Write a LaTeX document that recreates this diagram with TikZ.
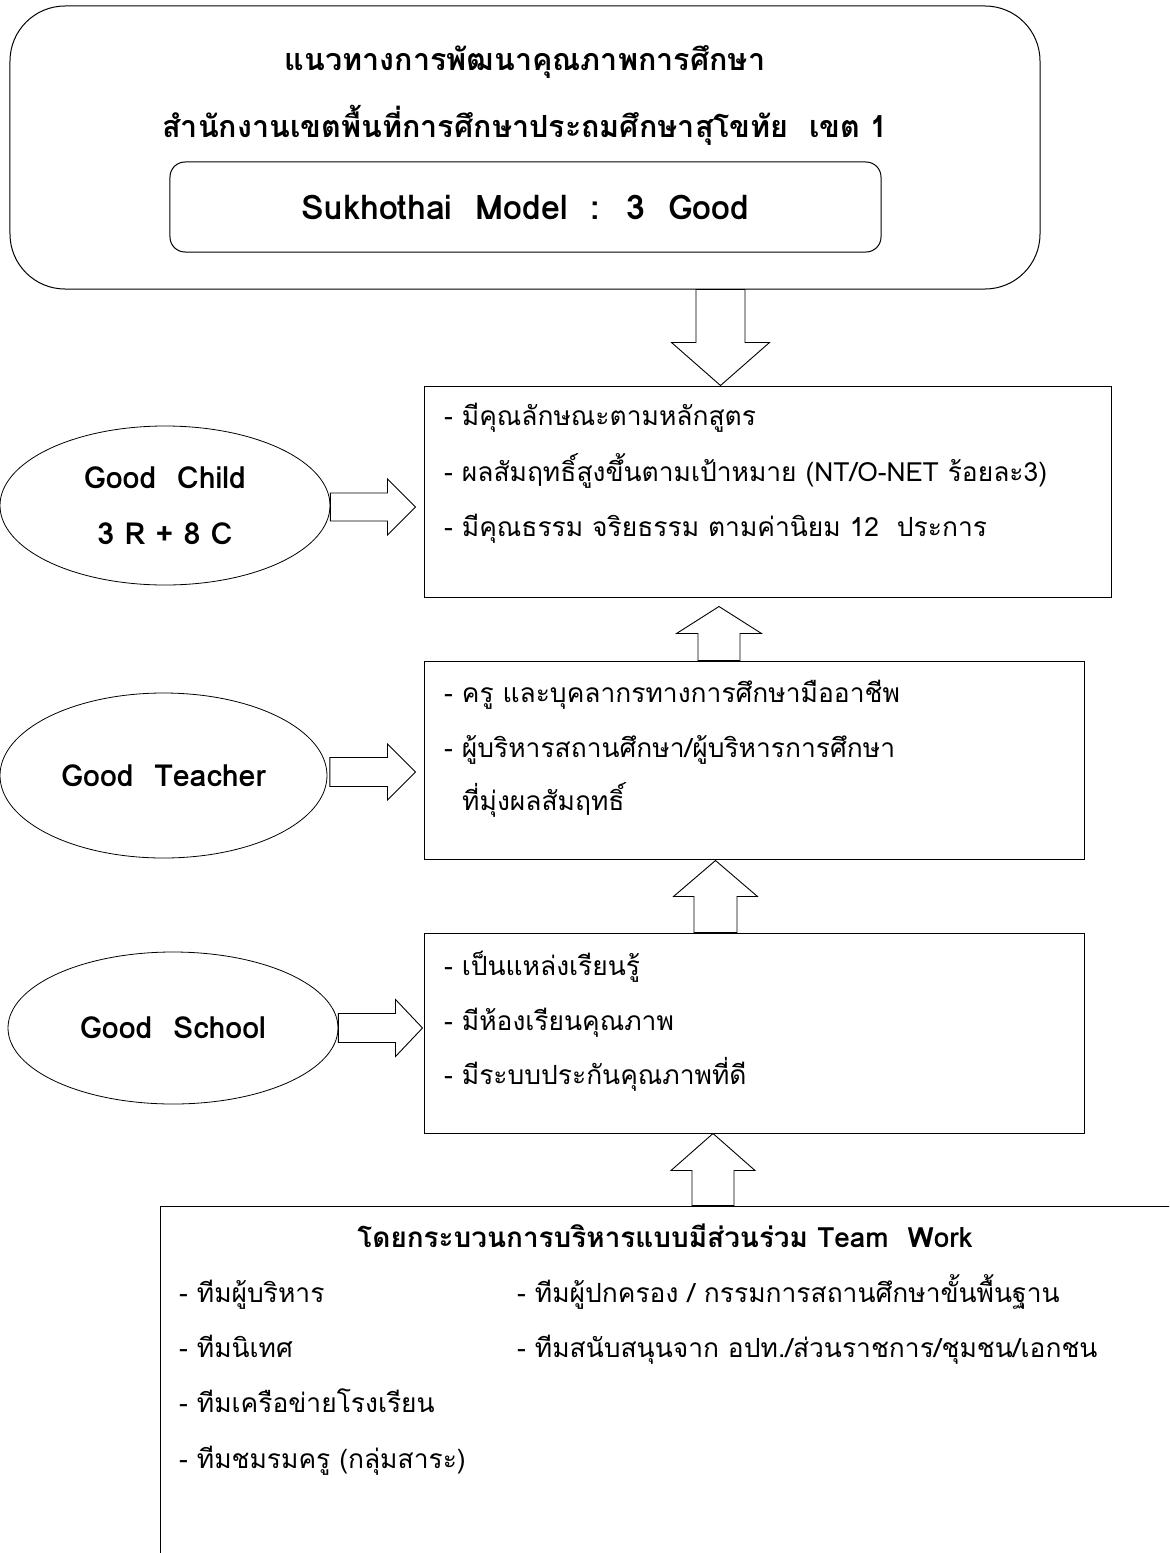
\documentclass[tikz,border=0pt]{standalone}
\usepackage{fontspec}
\setmainfont{Loma}[Script=Thai]
\usetikzlibrary{calc,shapes.geometric}
\newcommand\blkarrow[5]{%
  \coordinate (nk) at ($(#2)!#5!(#1)$);
  \draw[blockarrow] ($(#1)!#3!90:(#2)$) -- ($(nk)!#3!90:(#2)$) -- ($(nk)!#4!90:(#2)$) -- (#2)
    -- ($(nk)!#4!-90:(#2)$) -- ($(nk)!#3!-90:(#2)$) -- ($(#1)!#3!-90:(#2)$) -- cycle;
}
\tikzset{
  frame/.style={draw=black, line width=1bp, inner sep=0pt},
  ell/.style={draw=black, line width=0.8bp, ellipse, inner sep=0pt, align=center,
              font=\fontsize{30.5}{56}\selectfont\bfseries},
  blockarrow/.style={draw=black, line width=0.9bp, fill=white, line join=miter},
  ttl/.style={font=\fontsize{30.6}{36}\selectfont\bfseries, inner sep=0pt},
  txt/.style={font=\fontsize{26.5}{32}\selectfont, inner sep=0pt, anchor=mid west},
}
\begin{document}
\begin{tikzpicture}[x=1bp,y=-1bp]
\clip (0,0) rectangle (1169,1553);
\fill[white] (0,0) rectangle (1169,1553);

% top block
\node[frame, rounded corners=55bp, minimum width=1030bp, minimum height=283bp] (top) at (525,147.5) {};
\node[ttl] (t1) at (525,62) {แนวทางการพัฒนาคุณภาพการศึกษา};
\node[ttl] (t2) at (525,125) {สำนักงานเขตพื้นที่การศึกษาประถมศึกษาสุโขทัย~ เขต 1};
\node[frame, rounded corners=15bp, minimum width=711bp, minimum height=90bp,
      font=\fontsize{34}{40}\selectfont\bfseries] (model) at (525.5,207) {Sukhothai~ Model~ :~ 3~ Good};

% content boxes
\node[frame, minimum width=687bp, minimum height=211bp] (b1) at (767.5,491.5) {};
\node[frame, minimum width=660bp, minimum height=198bp] (b2) at (754,760) {};
\node[frame, minimum width=660bp, minimum height=200bp] (b3) at (754,1033) {};
\node[frame, minimum width=1019bp, minimum height=400bp] (b4) at (670.5,1406) {};

% ellipses
\node[ell, minimum width=330bp, minimum height=159bp] (gc) at (165,505.5) {Good~ Child\\3 R + 8 C};
\node[ell, minimum width=327bp, minimum height=165bp] (gt) at (163.5,775.5) {Good~ Teacher};
\node[ell, minimum width=330bp, minimum height=152bp] (gs) at (173,1028) {Good~ School};

% box 1 text
\node[txt] (b1l1) at (444,423) {- มีคุณลักษณะตามหลักสูตร};
\node[txt] (b1l2) at (444,479) {- ผลสัมฤทธิ์สูงขึ้นตามเป้าหมาย (NT/O-NET ร้อยละ3)};
\node[txt] (b1l3) at (444,534) {- มีคุณธรรม จริยธรรม ตามค่านิยม 12~ ประการ};
% box 2 text
\node[txt] (b2l1) at (444,700) {- ครู และบุคลากรทางการศึกษามืออาชีพ};
\node[txt] (b2l2) at (444,755) {- ผู้บริหารสถานศึกษา/ผู้บริหารการศึกษา};
\node[txt] (b2l3) at (462,808) {ที่มุ่งผลสัมฤทธิ์};
% box 3 text
\node[txt] (b3l1) at (444,973) {- เป็นแหล่งเรียนรู้};
\node[txt] (b3l2) at (444,1028) {- มีห้องเรียนคุณภาพ};
\node[txt] (b3l3) at (444,1082) {- มีระบบประกันคุณภาพที่ดี};
% box 4 text
\node[ttl, font=\fontsize{28}{34}\selectfont\bfseries, anchor=mid] (b4h) at (665,1245) {โดยกระบวนการบริหารแบบมีส่วนร่วม Team~ Work};
\node[txt] (b4a1) at (179,1300) {- ทีมผู้บริหาร};
\node[txt] (b4a2) at (179,1355) {- ทีมนิเทศ};
\node[txt] (b4a3) at (179,1410) {- ทีมเครือข่ายโรงเรียน};
\node[txt] (b4a4) at (179,1466) {- ทีมชมรมครู (กลุ่มสาระ)};
\node[txt] (b4b1) at (517,1300) {- ทีมผู้ปกครอง / กรรมการสถานศึกษาขั้นพื้นฐาน};
\node[txt] (b4b2) at (517,1355) {- ทีมสนับสนุนจาก อปท./ส่วนราชการ/ชุมชน/เอกชน};

% block arrows
\coordinate (xd) at (720.5,0);
\coordinate (dt) at (xd |- top.south);
\coordinate (dp) at (xd |- b1.north);
\blkarrow{dt}{dp}{24.5bp}{49bp}{43bp}

\coordinate (xu1) at (719,0);
\coordinate (u1t) at (xu1 |- b2.north);
\coordinate (u1p) at ($(xu1 |- b1.south)+(0,9)$);
\blkarrow{u1t}{u1p}{21bp}{42.5bp}{27bp}

\coordinate (xu2) at (715.5,0);
\coordinate (u2t) at (xu2 |- b3.north);
\coordinate (u2p) at ($(xu2 |- b2.south)+(0,1)$);
\blkarrow{u2t}{u2p}{21.5bp}{42bp}{36bp}

\coordinate (xu3) at (713,0);
\coordinate (u3t) at (xu3 |- b4.north);
\coordinate (u3p) at (xu3 |- b3.south);
\blkarrow{u3t}{u3p}{21bp}{42bp}{37bp}

\coordinate (r1t) at ($(gc.east)+(0,1.5)$);
\coordinate (r1p) at ($(b1.west |- r1t)+(-8,0)$);
\blkarrow{r1t}{r1p}{14bp}{28bp}{28bp}

\coordinate (r2t) at ($(gt.east)+(2.5,-3.5)$);
\coordinate (r2p) at ($(b2.west |- r2t)+(-8,0)$);
\blkarrow{r2t}{r2p}{14.5bp}{28bp}{28bp}

\coordinate (r3t) at ($(gs.east)+(0,0)$);
\coordinate (r3p) at ($(b3.west |- r3t)+(-1,0)$);
\blkarrow{r3t}{r3p}{14.5bp}{28.5bp}{27bp}
\end{tikzpicture}
\end{document}
